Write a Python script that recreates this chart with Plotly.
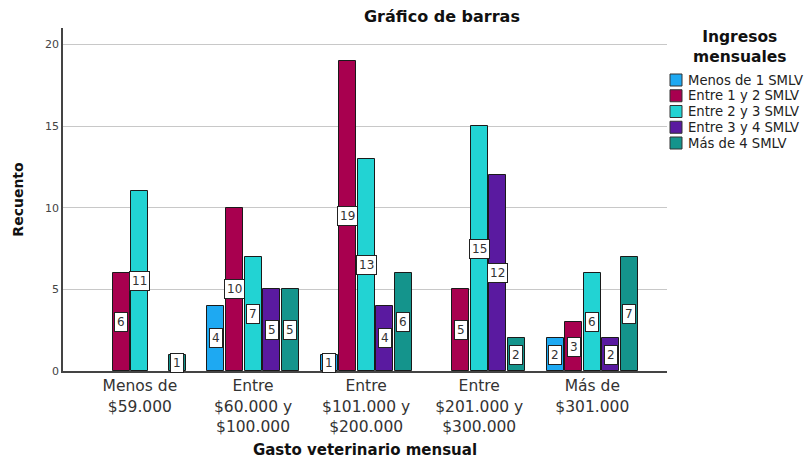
import numpy as np
import plotly.graph_objects as go

categorias = [
    "Menos de<br>$59.000",
    "Entre<br>$60.000 y<br>$100.000",
    "Entre<br>$101.000 y<br>$200.000",
    "Entre<br>$201.000 y<br>$300.000",
    "Más de<br>$301.000",
]
series = [
    "Menos de 1 SMLV",
    "Entre 1 y 2 SMLV",
    "Entre 2 y 3 SMLV",
    "Entre 3 y 4 SMLV",
    "Más de 4 SMLV",
]
menos_1 = [0, 4, 1, 0, 2]
entre_1_2 = [6, 10, 19, 5, 3]
entre_2_3 = [11, 7, 13, 15, 6]
entre_3_4 = [0, 5, 4, 12, 2]
mas_4 = [1, 5, 6, 2, 7]
valores = [menos_1, entre_1_2, entre_2_3, entre_3_4, mas_4]

colores = ["#1ea9f2", "#a8004f", "#22d3d3", "#5a1aa0", "#14948c"]

FONT = "DejaVu Sans"
W, H = 808, 459
M_L, M_R, M_T, M_B = 63, 141, 28, 88
plot_w = W - M_L - M_R
plot_h = H - M_T - M_B


def px_x(px):
    """Pixel column -> paper x."""
    return (px - M_L) / plot_w


def px_y(py):
    """Pixel row -> paper y."""
    return (H - M_B - py) / plot_h


paso = 0.164
ancho = 0.15
x_base = np.arange(len(categorias))

fig = go.Figure()
anotaciones = []
formas = []
for i, (nombre, vals, color) in enumerate(zip(series, valores, colores)):
    xs = x_base + (i - 2) * paso
    # empty categories get no bar at all
    ys = [v if v > 0 else None for v in vals]
    fig.add_trace(go.Bar(
        x=xs, y=ys, width=ancho, name=nombre, showlegend=False,
        marker=dict(color=color, line=dict(color="#1a1a1a", width=1)),
        hoverinfo="y+name",
    ))
    for xv, v in zip(xs, vals):
        if v > 0:
            anotaciones.append(dict(
                x=xv, y=v / 2, xref="x", yref="y", text=str(v),
                showarrow=False, bgcolor="white", bordercolor="#222",
                borderwidth=1, borderpad=2,
                font=dict(family=FONT, size=12, color="#333"),
            ))

# legend: heading plus one swatch and label per income band
anotaciones.append(dict(
    x=px_x(739), y=px_y(47), xref="paper", yref="paper",
    text="<b>Ingresos<br>mensuales</b>", showarrow=False, align="center",
    xanchor="center", yanchor="middle",
    font=dict(family=FONT, size=15.5, color="#111"),
))
fila0, dfila = 80, 15.75
for i, (nombre, color) in enumerate(zip(series, colores)):
    cy = fila0 + i * dfila
    formas.append(dict(
        type="rect", xref="paper", yref="paper",
        x0=px_x(670), x1=px_x(682), y0=px_y(cy + 6), y1=px_y(cy - 6),
        fillcolor=color, line=dict(color="#333", width=1),
    ))
    anotaciones.append(dict(
        x=px_x(686), y=px_y(cy), xref="paper", yref="paper", text=nombre,
        showarrow=False, xanchor="left", yanchor="middle",
        font=dict(family=FONT, size=13.2, color="#222"),
    ))

fig.update_layout(
    width=W, height=H,
    margin=dict(l=M_L, r=M_R, t=M_T, b=M_B, autoexpand=False),
    paper_bgcolor="white", plot_bgcolor="white",
    font=dict(family=FONT, color="#222"),
    title=dict(text="<b>Gráfico de barras</b>", x=0.547, xanchor="center",
               y=0.965, yanchor="middle", font=dict(size=16, color="#111")),
    bargap=0, showlegend=False,
    annotations=anotaciones, shapes=formas,
)

fig.update_xaxes(
    range=[-0.68, 4.66], tickvals=list(x_base), ticktext=categorias,
    showgrid=False, showline=True, linecolor="#444", linewidth=1.5,
    ticks="", tickfont=dict(size=15.5, color="#333"),
    title=dict(text="<b>Gasto veterinario mensual</b>", standoff=12,
               font=dict(size=15, color="#111")),
    zeroline=False,
)
fig.update_yaxes(
    range=[0, 21], tickvals=[0, 5, 10, 15, 20],
    showgrid=True, gridcolor="#c8c8c8", gridwidth=1,
    showline=True, linecolor="#444", linewidth=1.5,
    ticks="", tickfont=dict(size=11, color="#444"),
    title=dict(text="<b>Recuento</b>", standoff=18,
               font=dict(size=14, color="#111")),
    zeroline=False,
)

fig.write_html("out.html")
